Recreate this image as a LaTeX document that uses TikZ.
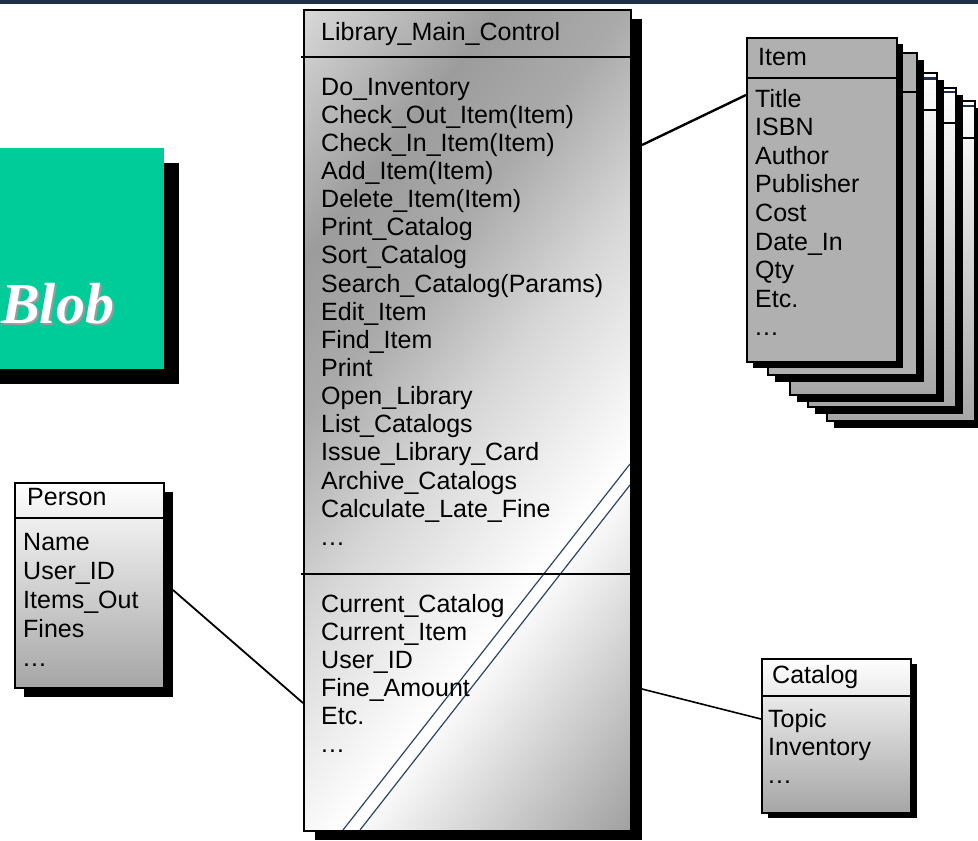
\documentclass[tikz,border=0pt]{standalone}
\usepackage{fontspec}
\setmainfont{Liberation Sans}
\newfontfamily\blobfont{Liberation Serif}
\usetikzlibrary{calc}

\definecolor{topnavy}{HTML}{1F2F47}
\definecolor{blobgreen}{HTML}{00CC99}
\definecolor{cardgray}{HTML}{B0B0B0}
\definecolor{linkblue}{HTML}{2C4466}
\definecolor{paneldark}{HTML}{A6A6A6}
\definecolor{blobshadow}{HTML}{9A9A9A}

% brushed-metal stops for the controller class (25bp..75bp span the box)
\definecolor{mA}{HTML}{E0E0E0}
\definecolor{mB}{HTML}{D8D8D8}
\definecolor{mC}{HTML}{9C9C9C}
\definecolor{mD}{HTML}{AAAAAA}
\definecolor{mE}{HTML}{D6D6D6}
\definecolor{mF}{HTML}{FFFFFF}
\definecolor{mG}{HTML}{9A9A9A}
\pgfdeclarehorizontalshading{metal}{100bp}{color(0bp)=(mA); color(25bp)=(mA);
  color(27.9bp)=(mB); color(36.9bp)=(mC); color(42.7bp)=(mD); color(49.7bp)=(mE);
  color(59bp)=(mF); color(73bp)=(mG); color(75bp)=(mG); color(100bp)=(mG)}

% the trailing "more members" marker (kept out of \foreach's range syntax)
\newcommand\moremembers{.\kern1pt.\kern1pt.}
% white lettering with a grey drop shadow, set as one box
\newcommand\shadowedword[1]{\rlap{\kern2pt\raisebox{-2pt}{\textcolor{blobshadow}{#1}}}#1}

\begin{document}
\begin{tikzpicture}[x=1pt,y=-1pt,
  txt/.style={anchor=base west, inner sep=0pt, font=\fontsize{25}{30}\selectfont},
  frame/.style={draw=black, line width=1.5pt, inner sep=0pt, anchor=north west},
  sep/.style={draw=black, line width=1.5pt},
  drop/.style={fill=black},
  link/.style={draw=black, line width=1.8pt},
  rail/.style={draw=linkblue, line width=1.2pt},
  backcard/.style={draw=black, line width=1.2pt, top color=white, bottom color=paneldark},
  frontcard/.style={draw=black, line width=1.5pt, fill=cardgray},
  panel/.style={top color=white, bottom color=paneldark},
  blobtxt/.style={anchor=base west, inner sep=0pt, text=white,
    font=\blobfont\bfseries\itshape\fontsize{58}{60}\selectfont}
]
\useasboundingbox (0,0) rectangle (978,841);
\fill[white] (0,0) rectangle (978,841);
\fill[topnavy] (0,0) rectangle (978,3.5);

% ---------- Blob label ----------
\fill[drop] (-5,163) rectangle (179,384);
\fill[blobgreen] (-5,148) rectangle (164,369);
\node[blobtxt] (blob) at (1,323) {\shadowedword{Blob}};

% ---------- Library_Main_Control ----------
\fill[drop] (315,19) rectangle (642,840);
\begin{scope}
  \clip (303,9) rectangle (630,830);
  \begin{scope}[transform canvas={rotate around={-38:(467,420)}}]
    \shade[shading=metal] (37,-40) rectangle (897,880);
  \end{scope}
  \coordinate (railA1) at (343,830);
  \coordinate (railA2) at (630,464);
  \coordinate (railB1) at (360,830);
  \coordinate (railB2) at (630,485);
  \fill[white] (railA1) -- (railA2) -- (railB2) -- (railB1) -- cycle;
  \draw[rail] (railA1) -- (railA2);
  \draw[rail] (railB1) -- (railB2);
\end{scope}
\node[frame, minimum width=327pt, minimum height=821pt] (main) at (303,9) {};
\draw[sep] (301,57) -- (630,57);
\draw[sep] (301,574) -- (630,574);
\node[txt] (mainhead) at (321,40) {Library\_Main\_Control};
\foreach \t [count=\i] in {Do\_Inventory, Check\_Out\_Item(Item), Check\_In\_Item(Item),
  Add\_Item(Item), Delete\_Item(Item), Print\_Catalog, Sort\_Catalog,
  Search\_Catalog(Params), Edit\_Item, Find\_Item, Print, Open\_Library,
  List\_Catalogs, Issue\_Library\_Card, Archive\_Catalogs, Calculate\_Late\_Fine, \moremembers}
  \node[txt] (op\i) at (321,{95+(\i-1)*28.15}) {\t};
\foreach \t [count=\i] in {Current\_Catalog, Current\_Item, User\_ID, Fine\_Amount, Etc., \moremembers}
  \node[txt] (attr\i) at (321,{612+(\i-1)*28}) {\t};

% ---------- Item stack (back to front) ----------
\fill[drop] (834,108) rectangle (982,428);
\path[backcard] (827,101) rectangle (975,421);
\draw[topnavy, line width=1.8pt] (828,106) -- (974,106);
\draw[black, line width=1.2pt] (827,138) -- (975,138);

\fill[drop] (815,95) rectangle (963,414);
\path[backcard] (808,88) rectangle (956,407);
\draw[topnavy, line width=2.6pt] (809,92) -- (955,92);
\draw[black, line width=1.2pt] (808,123) -- (956,123);

\fill[drop] (797,80) rectangle (944,402);
\path[backcard] (790,73) rectangle (937,395);
\draw[topnavy, line width=2.6pt] (791,78.5) -- (936,78.5);
\draw[black, line width=1.2pt] (790,110) -- (937,110);

\fill[drop] (775,60) rectangle (924,382);
\path[frontcard] (768,53) rectangle (917,375);
\draw[sep] (768,92) -- (917,92);

\fill[drop] (753,44) rectangle (903,368);
\node[frame, fill=cardgray, minimum width=150pt, minimum height=324pt] (item) at (746,37) {};
\draw[sep] (746,78) -- (896,78);
\node[txt] (itemhead) at (758,65) {Item};
\foreach \t [count=\i] in {Title, ISBN, Author, Publisher, Cost, Date\_In, Qty, Etc., \moremembers}
  \node[txt] (field\i) at (755,{107+(\i-1)*28.6}) {\t};

% ---------- Person ----------
\fill[drop] (24,492) rectangle (173,697);
\shade[panel] (14,482) rectangle (163,687);
\node[frame, minimum width=149pt, minimum height=205pt] (person) at (14,482) {};
\draw[sep] (14,518) -- (163,518);
\node[txt] (personhead) at (27,505) {Person};
\foreach \t [count=\i] in {Name, User\_ID, Items\_Out, Fines, \moremembers}
  \node[txt] (pfield\i) at (23,{550+(\i-1)*29}) {\t};

% ---------- Catalog ----------
\fill[drop] (768,664) rectangle (917,818);
\shade[panel] (761,658) rectangle (910,812);
\node[frame, minimum width=149pt, minimum height=154pt] (catalog) at (761,658) {};
\draw[sep] (761,696) -- (910,696);
\node[txt] (cathead) at (772,683) {Catalog};
\foreach \t [count=\i] in {Topic, Inventory, \moremembers}
  \node[txt] (cfield\i) at (768,{727+(\i-1)*28}) {\t};

% ---------- associations ----------
\coordinate (mainToItem) at (642,145);
\coordinate (itemEnd) at (746,95);
\coordinate (personEnd) at (173,590);
\coordinate (mainFromPerson) at (303,703);
\coordinate (mainToCatalog) at (642,689);
\coordinate (catalogEnd) at (761,719);
\draw[link, line width=2.4pt] (mainToItem) -- (itemEnd);
\draw[link] (personEnd) -- (mainFromPerson);
\draw[link, line width=1.6pt] (mainToCatalog) -- (catalogEnd);
\end{tikzpicture}
\end{document}
